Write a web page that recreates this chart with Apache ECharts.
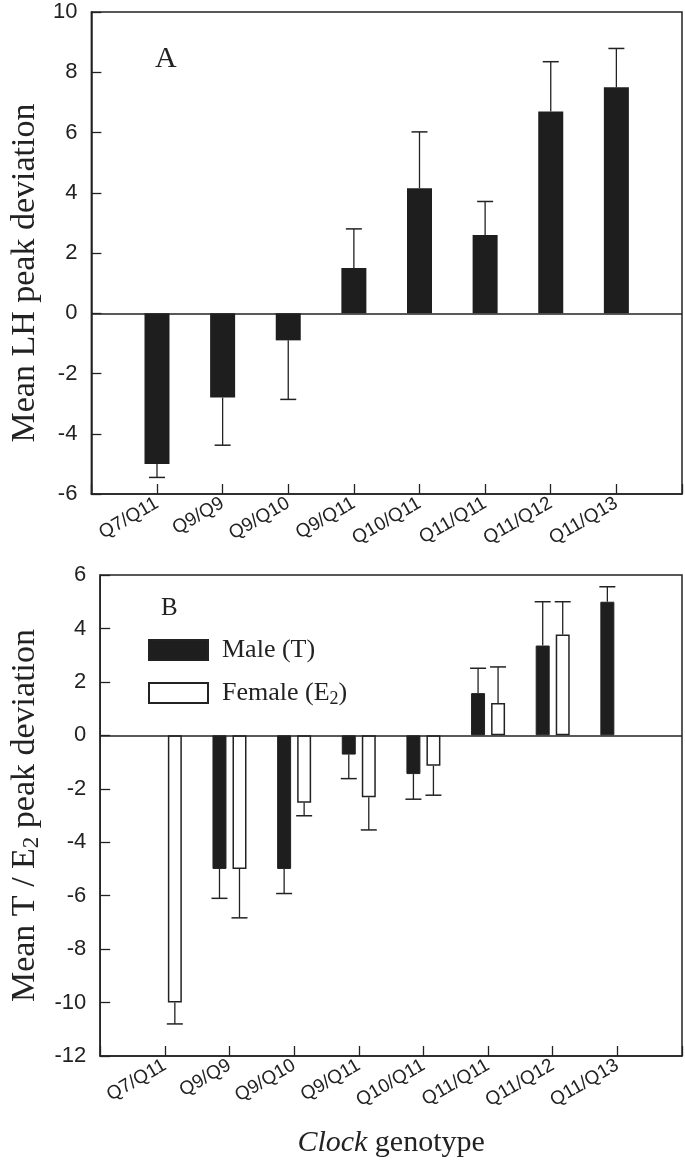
<!DOCTYPE html>
<html>
<head>
<meta charset="utf-8">
<script src="https://cdn.jsdelivr.net/npm/echarts@6/dist/echarts.min.js"></script>
<style>
html,body{margin:0;padding:0;background:#fff;}
#chart{width:685px;height:1166px;}
</style>
</head>
<body>
<div id="chart"></div>
<script>
// ---- data ----
var categories = ['Q7/Q11','Q9/Q9','Q9/Q10','Q9/Q11','Q10/Q11','Q11/Q11','Q11/Q12','Q11/Q13'];
var lhMean = [-5.0, -2.8, -0.9, 1.5, 4.15, 2.6, 6.7, 7.5];
var lhErr  = [0.45, 1.58, 1.96, 1.3, 1.87, 1.11, 1.65, 1.29];
var maleMean = [null, -5.0, -5.0, -0.72, -1.45, 1.58, 3.36, 5.0];
var maleErr  = [null, 1.1, 0.92, 0.9, 0.94, 0.93, 1.64, 0.56];
var femaleMean = [-10.0, -5.0, -2.52, -2.32, -1.14, 1.21, 3.77, null];
var femaleErr  = [0.8, 1.83, 0.49, 1.22, 1.1, 1.35, 1.23, null];
var yTicksA = {min: -6, max: 10, interval: 2};
var yTicksB = {min: -12, max: 6, interval: 2};

// ---- helpers ----
var xCats = [''].concat(categories).concat(['']);
function pad(arr){ return [null].concat(arr).concat([null]).map(function(v){ return v === null ? '-' : v; }); }
function errData(mean, err){
  var out = [];
  for (var i = 0; i < mean.length; i++) {
    if (mean[i] !== null && err[i] !== null) out.push([i + 1, mean[i], err[i]]);
  }
  return out;
}
var INK = '#222';
function errRender(offset){
  return function(params, api){
    var idx = api.value(0), m = api.value(1), e = api.value(2);
    var end = m >= 0 ? m + e : m - e;
    var p0 = api.coord([idx, m]);
    var p1 = api.coord([idx, end]);
    var x = p0[0] + offset;
    var cap = 8;
    return {
      type: 'group',
      children: [
        {type:'line', shape:{x1:x, y1:p0[1], x2:x, y2:p1[1]}, style:{stroke:INK, lineWidth:1.3}},
        {type:'line', shape:{x1:x-cap, y1:p1[1], x2:x+cap, y2:p1[1]}, style:{stroke:INK, lineWidth:1.5}}
      ]
    };
  };
}
var serif = '"Liberation Serif", "Times New Roman", serif';
var sans = '"Liberation Sans", Arial, sans-serif';

function xAxisCfg(gridIndex, withName){
  var c = {
    type: 'category', gridIndex: gridIndex, data: xCats, boundaryGap: false,
    axisLine: {show: true, onZero: false, lineStyle: {color: INK, width: 1.5}},
    axisTick: {show: true, inside: true, length: 10, interval: 0, lineStyle: {color: INK, width: 1.3}},
    axisLabel: {interval: 0, rotate: 30, fontSize: 19, fontFamily: sans, color: INK, margin: 8},
    splitLine: {show: false}
  };
  if (withName) {
    c.name = '{i|Clock} genotype';
    c.nameLocation = 'middle';
    c.nameGap = 72;
    c.nameTextStyle = {fontSize: 30, fontFamily: serif, color: INK,
      rich: {i: {fontSize: 30, fontFamily: serif, fontStyle: 'italic', color: INK}}};
  }
  return c;
}
function yAxisCfg(gridIndex, t, name, rich, padding){
  return {
    type: 'value', gridIndex: gridIndex, min: t.min, max: t.max, interval: t.interval,
    axisLine: {show: true, lineStyle: {color: INK, width: 1.5}},
    axisTick: {show: true, inside: true, length: 10, lineStyle: {color: INK, width: 1.3}},
    axisLabel: {fontSize: 22, fontFamily: sans, color: INK, margin: 14},
    splitLine: {show: false},
    name: name, nameLocation: 'middle', nameRotate: 90, nameGap: 46,
    nameTextStyle: {fontSize: 34, fontFamily: serif, color: INK, rich: rich || {}, padding: padding || 0}
  };
}
var zeroLine = {symbol: 'none', silent: true, label: {show: false},
  lineStyle: {color: INK, width: 1.5, type: 'solid'}, data: [{yAxis: 0}]};

var chart = echarts.init(document.getElementById('chart'), null, {renderer: 'canvas'});
chart.setOption({
  animation: false,
  backgroundColor: '#fff',
  grid: [
    {left: 83, right: 3, top: 12, height: 482, show: true, borderColor: INK, borderWidth: 1.5},
    {left: 83, right: 3, top: 575, height: 481, show: true, borderColor: INK, borderWidth: 1.5}
  ],
  xAxis: [xAxisCfg(0, false), xAxisCfg(1, true)],
  yAxis: [
    yAxisCfg(0, yTicksA, 'Mean LH peak deviation', null, [0, 40, 0, 0]),
    yAxisCfg(1, yTicksB, 'Mean T / E{sub|2} peak deviation',
      {sub: {fontSize: 23, fontFamily: serif, color: INK, padding: [14, 0, 0, 0]}}, 0)
  ],
  legend: {
    data: ['Male (T)', 'Female (E2)'],
    orient: 'vertical', left: 143, top: 632,
    itemWidth: 59, itemHeight: 20, itemGap: 17,
    icon: 'rect',
    formatter: function(n){ return n === 'Female (E2)' ? 'Female (E{sub|2})' : n; },
    textStyle: {fontSize: 26, fontFamily: serif, color: INK, lineHeight: 20, padding: [0, 0, 0, 9],
      rich: {sub: {fontSize: 18, fontFamily: serif, color: INK, padding: [12, 0, 0, 0]}}}
  },
  graphic: [
    {type: 'text', left: 155, top: 44, style: {text: 'A', fontSize: 30, fontFamily: serif, fill: INK}},
    {type: 'text', left: 161, top: 596, style: {text: 'B', fontSize: 25, fontFamily: serif, fill: INK}}
  ],
  series: [
    {type: 'bar', name: 'LH', xAxisIndex: 0, yAxisIndex: 0, data: pad(lhMean), barWidth: 25,
     itemStyle: {color: '#1e1e1e'}, markLine: zeroLine},
    {type: 'custom', xAxisIndex: 0, yAxisIndex: 0, data: errData(lhMean, lhErr), renderItem: errRender(0), z: 1},
    {type: 'bar', name: 'Male (T)', xAxisIndex: 1, yAxisIndex: 1, data: pad(maleMean), barWidth: 14, barGap: '43%',
     itemStyle: {color: '#1e1e1e', borderColor: INK, borderWidth: 1}, markLine: zeroLine},
    {type: 'bar', name: 'Female (E2)', xAxisIndex: 1, yAxisIndex: 1, data: pad(femaleMean), barWidth: 14, barGap: '43%',
     itemStyle: {color: '#fff', borderColor: INK, borderWidth: 1.5}},
    {type: 'custom', xAxisIndex: 1, yAxisIndex: 1, data: errData(maleMean, maleErr), renderItem: errRender(-10), z: 1},
    {type: 'custom', xAxisIndex: 1, yAxisIndex: 1, data: errData(femaleMean, femaleErr), renderItem: errRender(10), z: 1}
  ]
});
</script>
</body>
</html>
